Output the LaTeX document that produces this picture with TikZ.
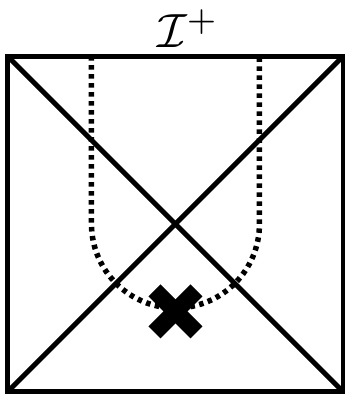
\documentclass[tikz,border=0pt]{standalone}
\usetikzlibrary{positioning}

\begin{document}
\begin{tikzpicture}[x=84pt, y=84pt,
    bdry/.style={line width=5pt},
    orbit/.style={line width=5.5pt, dash pattern=on 4.5pt off 4.5pt},
    defect/.style={line width=17pt}]
  \useasboundingbox (-2.089,-2.024) rectangle (2.018,2.667);

  % corners of the diagram
  \coordinate (sw) at (-2,-2);
  \coordinate (se) at (2,-2);
  \coordinate (nw) at (-2,2);
  \coordinate (ne) at (2,2);
  \draw[bdry] (sw) rectangle (ne);
  \draw[bdry] (sw) -- (ne);
  \draw[bdry] (nw) -- (se);

  % future null infinity
  \node[scale=4.8, anchor=base, inner sep=0pt] (scri) at (0.15,2.1) {$\mathcal{I}^+$};

  % dotted path, down and back up
  \coordinate (pl) at (-1,2);
  \coordinate (pr) at (1,2);
  \draw[orbit] (pl) -- (-1,0) arc[start angle=180, end angle=360, radius=1] -- (pr);

  % the cross at the bottom of the path
  \coordinate (x0) at (0,-1.04);
  \draw[defect] ([shift={(-0.25,-0.25)}]x0) -- ([shift={(0.25,0.25)}]x0);
  \draw[defect] ([shift={(-0.25,0.25)}]x0) -- ([shift={(0.25,-0.25)}]x0);
\end{tikzpicture}
\end{document}
